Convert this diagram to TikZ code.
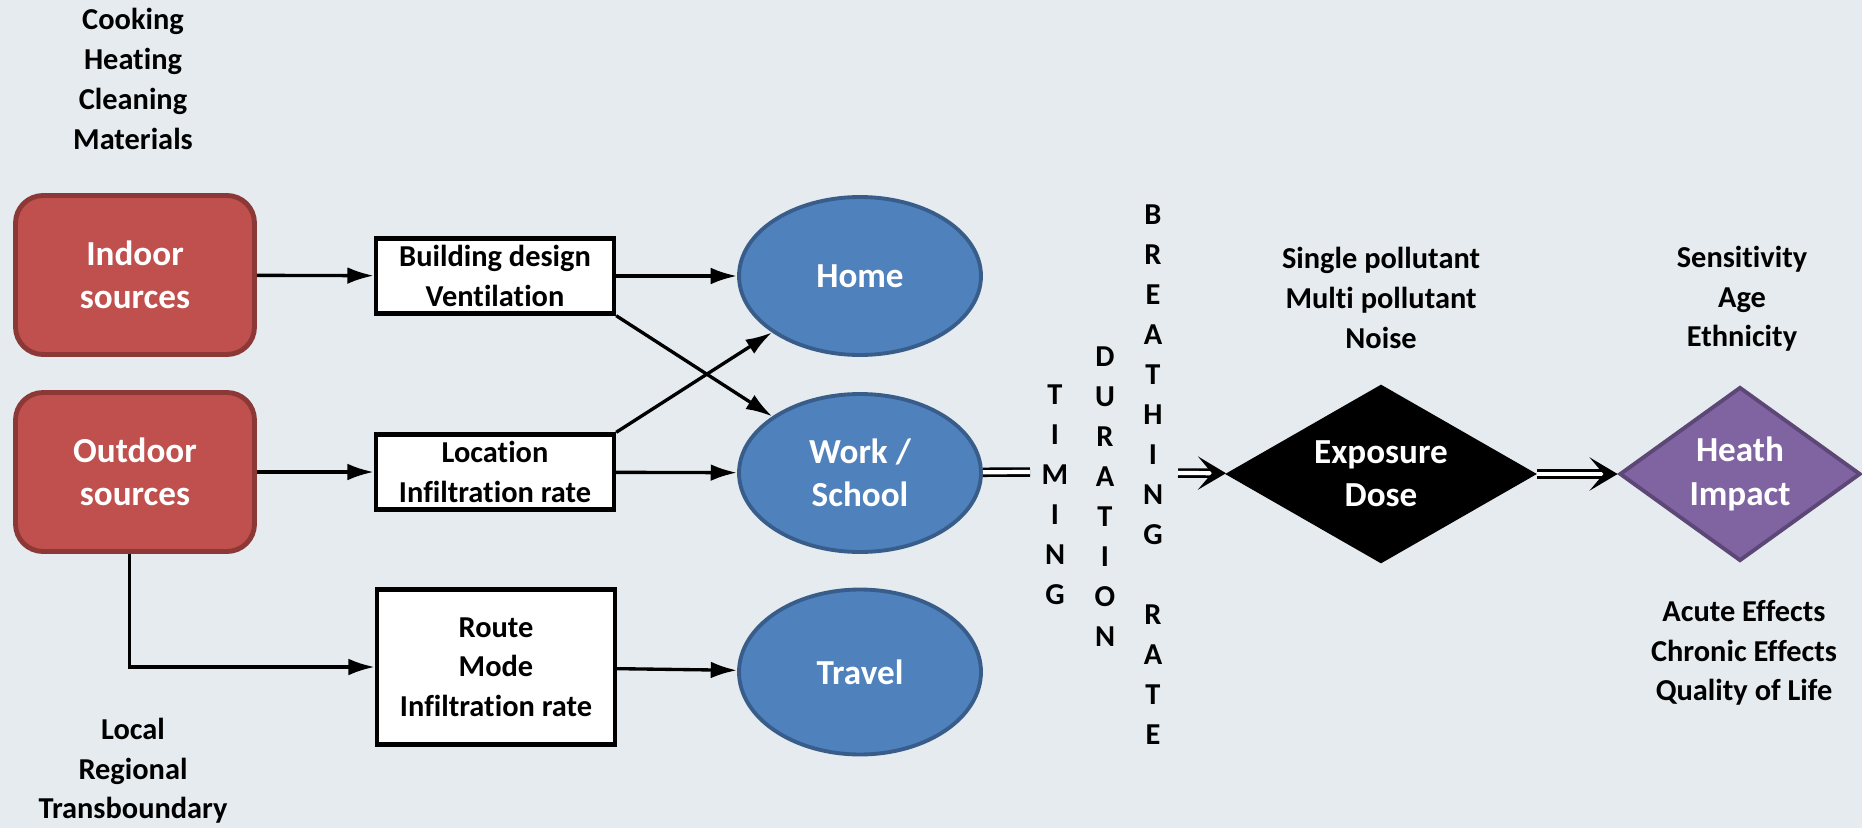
\documentclass[tikz,border=0pt]{standalone}
\usepackage{fontspec}
\setmainfont{Carlito}[Ligatures=NoCommon]
\usepackage{xcolor}
\usepackage{tikz}
\usetikzlibrary{shapes.geometric,arrows.meta}

\definecolor{bgcol}{HTML}{E5EBEE}
\definecolor{srcfill}{HTML}{C0504D}
\definecolor{srcline}{HTML}{8C3836}
\definecolor{envfill}{HTML}{4F81BD}
\definecolor{envline}{HTML}{385D8A}
\definecolor{impfill}{HTML}{8064A2}
\definecolor{impline}{HTML}{5C4776}

\begin{document}
\begin{tikzpicture}[x=0.02cm,y=-0.02cm,
 txt/.style={align=center,font=\fontsize{17.3}{22.6}\selectfont\bfseries},
 wtxt/.style={text=white,align=center,font=\fontsize{20}{24.6}\selectfont\bfseries},
 src/.style={wtxt,draw=srcline,fill=srcfill,line width=2.8pt,rounded corners=0.55cm,minimum width=4.78cm,minimum height=3.18cm},
 fac/.style={txt,draw=black,fill=white,line width=2.5pt,minimum width=4.76cm,minimum height=1.5cm},
 env/.style={wtxt,ellipse,draw=envline,fill=envfill,line width=2.2pt,inner sep=0pt,minimum width=4.84cm,minimum height=3.16cm},
 dia/.style={wtxt,diamond,inner sep=0pt},
 ltr/.style={font=\fontsize{17.3}{20}\selectfont\bfseries,inner sep=0pt},
 arr/.style={-{Latex[length=15pt,width=9.5pt]},line width=1.9pt},
 dbl/.style={double,double distance=2.4pt,line width=1.5pt},
 dblarr/.style={dbl,-{Stealth[length=16pt,width=19pt,inset=8pt,fill=black]}}]
\path[use as bounding box,fill=bgcol] (0,0) rectangle (1862,828);

\node[src] (indoor) at (135,275) {Indoor\\sources};
\node[src] (outdoor) at (135,472) {Outdoor\\sources};
\node[fac] (bldg) at (495,276) {Building design\\Ventilation};
\node[fac] (site) at (495,472) {Location\\Infiltration rate};
\node[fac,minimum height=3.1cm] (route) at (496,667) {Route\\Mode\\Infiltration rate};
\node[env] (home) at (860,276) {Home};
\node[env] (work) at (860,473) {Work /\\School};
\node[env,minimum height=3.3cm] (travel) at (860,672) {Travel};
\node[dia,fill=black,aspect=1.75,minimum width=6.24cm,minimum height=3.58cm] (dose) at (1381,474) {Exposure\\Dose};
\node[dia,fill=impfill,draw=impline,line width=2.2pt,aspect=1.38,minimum width=4.82cm,minimum height=3.48cm] (impact) at (1740,474) {Heath\\Impact};

\node[txt] (indlist) at (133,79) {Cooking\\Heating\\Cleaning\\Materials};
\node[txt] (outlist) at (133,771) {Local\\Regional\\Transboundary};
\node[txt] (polllist) at (1381,298) {Single pollutant\\Multi pollutant\\Noise};
\node[txt] (senslist) at (1742,299) {Sensitivity\\Age\\Ethnicity};
\node[txt] (efflist) at (1744,653) {Acute Effects\\Chronic Effects\\Quality of Life};

\foreach \c [count=\i] in {T,I,M,I,N,G} \node[ltr] (tim\i) at (1055,355+40*\i) {\c};
\foreach \c [count=\i] in {D,U,R,A,T,I,O,N} \node[ltr] (dur\i) at (1105,317+40*\i) {\c};
\foreach \c [count=\i] in {B,R,E,A,T,H,I,N,G} \node[ltr] (bre\i) at (1153,175+40*\i) {\c};
\foreach \c [count=\i] in {R,A,T,E} \node[ltr] (rate\i) at (1153,575+40*\i) {\c};

\coordinate (wend) at (1030,472);
\coordinate (dstart) at (1178,473);

\draw[arr] (indoor) -- (bldg);
\draw[arr] (outdoor) -- (site);
\draw[arr] ([xshift=-3]outdoor.south) |- (route);
\draw[arr] (bldg) -- (home);
\draw[arr] (site) -- (work);
\draw[arr] (bldg.south east) -- (work);
\draw[arr] (site.north east) -- (home);
\draw[arr] (route) -- (travel);
\draw[dbl] (work) -- (wend);
\draw[dblarr] (dstart) -- (dose);
\draw[dblarr] (dose) -- (impact);
\end{tikzpicture}
\end{document}
